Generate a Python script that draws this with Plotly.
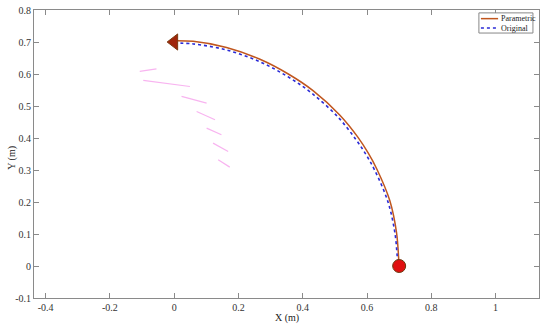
import plotly.graph_objects as go

# Parametric trajectory
param_x = [0.0, 0.059, 0.163, 0.267, 0.355, 0.432, 0.515, 0.572, 0.603, 0.630, 0.671, 0.692, 0.699, 0.700]
param_y = [0.704, 0.702, 0.683, 0.646, 0.600, 0.548, 0.472, 0.402, 0.354, 0.304, 0.204, 0.103, 0.014, 0.0]

# Original trajectory
orig_x = [0.0, 0.060, 0.163, 0.267, 0.353, 0.428, 0.510, 0.565, 0.597, 0.624, 0.665, 0.687, 0.696, 0.700]
orig_y = [0.697, 0.694, 0.675, 0.638, 0.592, 0.540, 0.465, 0.396, 0.348, 0.299, 0.201, 0.102, 0.014, 0.0]

# faint pink segments (artifacts in the picture)
seg_x = [[-0.107, -0.055], [-0.096, 0.049], [0.023, 0.101], [0.070, 0.127], [0.101, 0.147], [0.121, 0.168], [0.137, 0.173]]
seg_y = [[0.608, 0.616], [0.580, 0.561], [0.530, 0.509], [0.483, 0.457], [0.431, 0.410], [0.384, 0.358], [0.332, 0.309]]

start_pt = (0.7, 0.0)
end_pt = (0.0, 0.7)

x_ticks = [-0.4, -0.2, 0, 0.2, 0.4, 0.6, 0.8, 1]
y_ticks = [-0.1, 0, 0.1, 0.2, 0.3, 0.4, 0.5, 0.6, 0.7, 0.8]

legend_names = ["Parametric", "Original"]
param_color = "#c0561e"
orig_color = "#2b2bd6"

fig = go.Figure()
for sx, sy in zip(seg_x, seg_y):
    fig.add_trace(go.Scatter(x=sx, y=sy, mode="lines", line=dict(color="#f8b4f0", width=1.2),
                             showlegend=False, hoverinfo="skip"))

fig.add_trace(go.Scatter(x=param_x, y=param_y, mode="lines", name=legend_names[0],
                         line=dict(color=param_color, width=1.5, shape="spline", smoothing=1.0)))
fig.add_trace(go.Scatter(x=orig_x, y=orig_y, mode="lines", name=legend_names[1],
                         line=dict(color=orig_color, width=1.6, dash="3px,3px", shape="spline", smoothing=1.0)))
fig.add_trace(go.Scatter(x=[end_pt[0]], y=[end_pt[1]], mode="markers", showlegend=False,
                         marker=dict(symbol="triangle-left", size=14, color="#a0260c",
                                     line=dict(color="#7a3a10", width=1))))
fig.add_trace(go.Scatter(x=[start_pt[0]], y=[start_pt[1]], mode="markers", showlegend=False,
                         marker=dict(symbol="circle", size=13, color="#e01010",
                                     line=dict(color="#6b3a10", width=1))))

axis_common = dict(showgrid=False, zeroline=False, showline=True, linecolor="#8a8a8a", linewidth=1,
                   mirror="ticks", ticks="inside", ticklen=5, tickcolor="#8a8a8a", automargin=False,
                   tickfont=dict(family="Liberation Serif", size=10, color="#333333"))

# custom compact legend (MATLAB style)
fig.add_shape(type="rect", xref="paper", yref="paper", x0=0.881, x1=0.988, y0=0.920, y1=0.990,
              line=dict(color="#888888", width=1), fillcolor="white", layer="above")
fig.add_shape(type="line", xref="paper", yref="paper", x0=0.885, x1=0.919, y0=0.970, y1=0.970,
              line=dict(color=param_color, width=1.5), layer="above")
fig.add_shape(type="line", xref="paper", yref="paper", x0=0.885, x1=0.919, y0=0.9375, y1=0.9375,
              line=dict(color=orig_color, width=1.6, dash="3px,3px"), layer="above")
for name, yy in zip(legend_names, [0.970, 0.9375]):
    fig.add_annotation(text=name, xref="paper", yref="paper", x=0.921, y=yy, xanchor="left",
                       yanchor="middle", showarrow=False,
                       font=dict(family="Liberation Serif", size=8, color="#222222"))

# axis titles
title_font = dict(family="Liberation Serif", size=10, color="#222222")
fig.add_annotation(text="X (m)", xref="paper", yref="paper", x=0.5, y=0, xanchor="center",
                   yanchor="middle", yshift=-20, showarrow=False, font=title_font)
fig.add_annotation(text="Y (m)", xref="paper", yref="paper", x=0, y=0.487, xanchor="center",
                   yanchor="middle", xshift=-22, textangle=-90, showarrow=False, font=title_font)

fig.update_layout(
    width=550, height=328,
    margin=dict(l=34, r=11, t=10, b=30),
    paper_bgcolor="white", plot_bgcolor="white",
    xaxis=dict(range=[-0.436, 1.135], tickvals=x_ticks, ticktext=[f"{v:g}" for v in x_ticks],
               **axis_common),
    yaxis=dict(range=[-0.1, 0.8], tickvals=y_ticks, ticktext=[f"{v:g}" for v in y_ticks],
               **axis_common),
    showlegend=False,
)

fig.write_html("out.html", config={"displayModeBar": False},
               post_script="document.body.style.margin='0';document.body.style.overflow='hidden';")
